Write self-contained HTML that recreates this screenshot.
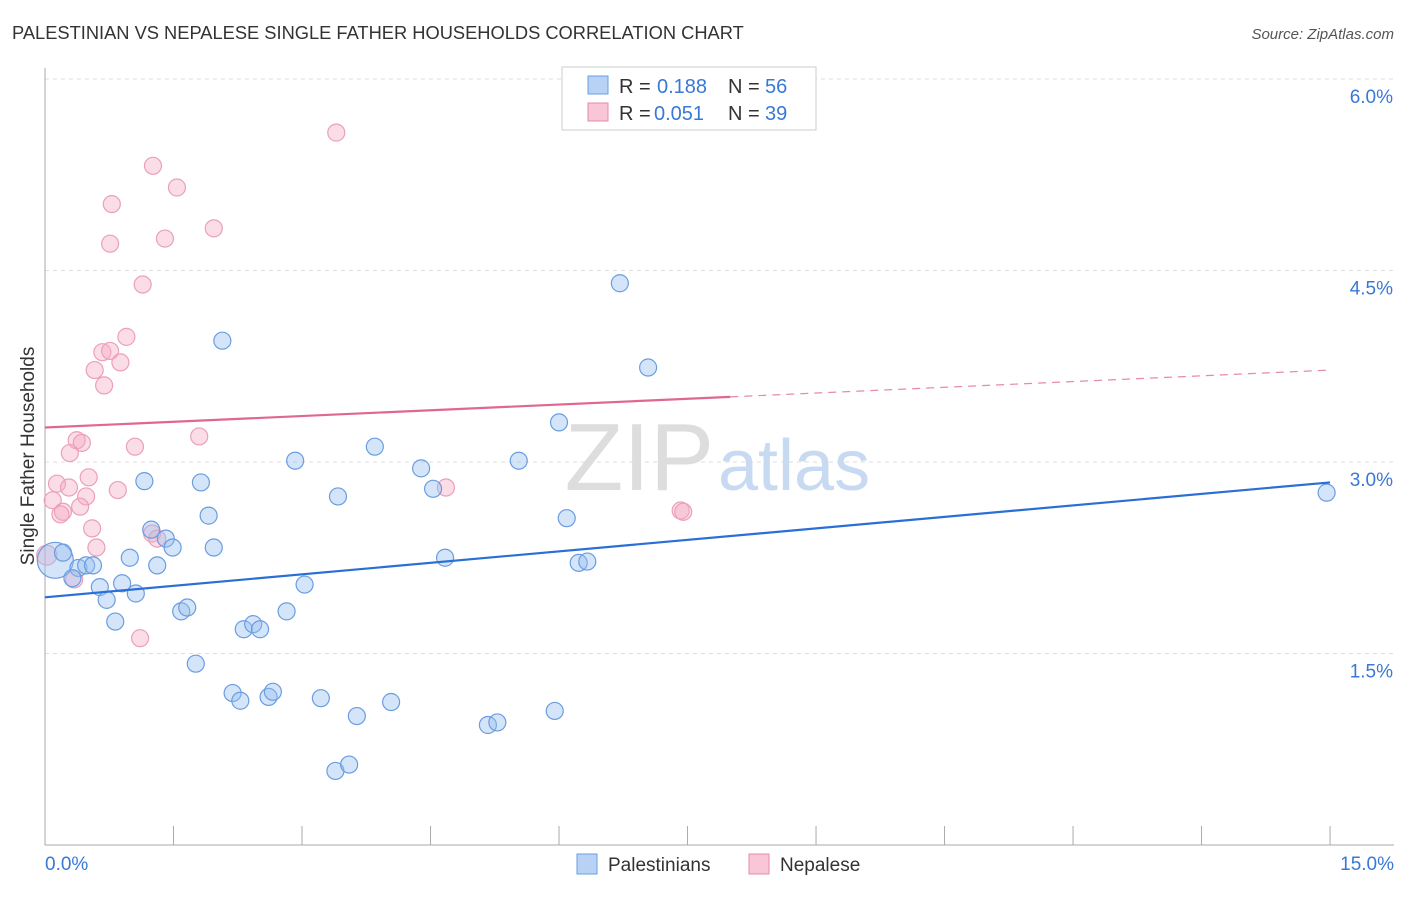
<!DOCTYPE html>
<html><head><meta charset="utf-8"><style>
body{margin:0;background:#fff;font-family:"Liberation Sans",sans-serif}
svg text{font-family:"Liberation Sans",sans-serif}
</style></head><body>
<svg id="c" width="1406" height="892">
<text x="12" y="39" font-size="18.3" fill="#333">PALESTINIAN VS NEPALESE SINGLE FATHER HOUSEHOLDS CORRELATION CHART</text>
<text x="1394" y="39" font-size="15" fill="#555" font-style="italic" text-anchor="end">Source: ZipAtlas.com</text>
<g id="grid"></g>
<g id="wm">
<text x="714" y="490" font-size="96" fill="#ddd" text-anchor="end" font-family="Liberation Serif">ZIP</text>
<text x="718" y="490" font-size="72" fill="#c8daf2">atlas</text>
</g>
<g id="marks"></g>
<g id="legend">
<rect x="562" y="67" width="254" height="63" fill="#fff" stroke="#ccc"/>
<rect x="588" y="76" width="20" height="18" fill="#b8d2f5" stroke="#6a9de0"/>
<rect x="588" y="103" width="20" height="18" fill="#f8c6d6" stroke="#e88aa8"/>
<text x="619" y="93" font-size="20" fill="#333">R = </text>
<text x="657" y="93" font-size="20" fill="#3a78d6">0.188</text>
<text x="728" y="93" font-size="20" fill="#333">N = </text>
<text x="765" y="93" font-size="20" fill="#3a78d6">56</text>
<text x="619" y="120" font-size="20" fill="#333">R = </text>
<text x="654" y="120" font-size="20" fill="#3a78d6">0.051</text>
<text x="728" y="120" font-size="20" fill="#333">N = </text>
<text x="765" y="120" font-size="20" fill="#3a78d6">39</text>
</g>
<g>
<rect x="577" y="854" width="20" height="20" fill="#b8d2f5" stroke="#6a9de0"/>
<text x="608" y="871" font-size="19" fill="#333">Palestinians</text>
<rect x="749" y="854" width="20" height="20" fill="#f8c6d6" stroke="#e88aa8"/>
<text x="780" y="871" font-size="19" fill="#333">Nepalese</text>
</g>
<text transform="translate(34,456) rotate(-90)" font-size="19" fill="#333" text-anchor="middle">Single Father Households</text>
</svg>
<script>
const blueX=[.12,.21,.39,.32,.48,.56,.64,.72,.82,.90,.99,1.06,1.16,1.24,1.31,1.41,1.49,1.59,1.66,1.76,1.82,1.91,1.97,2.07,2.19,2.28,2.32,2.43,2.51,2.61,2.66,2.82,2.92,3.03,3.22,3.39,3.42,3.55,3.64,3.85,4.04,4.39,4.53,4.67,5.17,5.28,5.53,5.95,6.00,6.09,6.23,6.33,6.71,7.04,14.96];
const blueY=[2.23,2.29,2.17,2.09,2.19,2.19,2.02,1.92,1.75,2.05,2.25,1.97,2.85,2.47,2.19,2.40,2.33,1.83,1.86,1.42,2.84,2.58,2.33,3.95,1.19,1.13,1.69,1.73,1.69,1.16,1.20,1.83,3.01,2.04,1.15,0.58,2.73,0.63,1.01,3.12,1.12,2.95,2.79,2.25,0.94,0.96,3.01,1.05,3.31,2.56,2.21,2.22,4.40,3.74,2.76];
const pinkX=[3.40,1.26,1.54,.78,1.97,1.40,.76,1.14,.95,.67,.76,.88,.58,.69,1.80,.37,.43,1.05,.29,.51,.14,.28,.85,4.68,.48,.09,.41,.21,.18,.55,.60,1.25,1.31,1.11,7.42,7.45,.02,.34];
const pinkY=[5.58,5.32,5.15,5.02,4.83,4.75,4.71,4.39,3.98,3.86,3.87,3.78,3.72,3.60,3.20,3.17,3.15,3.12,3.07,2.88,2.83,2.80,2.78,2.80,2.73,2.70,2.65,2.61,2.59,2.48,2.33,2.44,2.40,1.62,2.62,2.61,2.27,2.08];
const blueLine=[1.94,2.84];
const pinkLine=[3.27,3.72];
const yTicks=[1.5,3.0,4.5,6.0];
const xTickVals=[0,1.5,3,4.5,6,7.5,9,10.5,12,13.5,15];
const NS='http://www.w3.org/2000/svg';
const X=v=>45+v*85.67, Y=v=>845-v*127.67;
function mk(t,a,p){const e=document.createElementNS(NS,t);for(const k in a)e.setAttribute(k,a[k]);(p||document.getElementById('marks')).appendChild(e);return e;}
const g=document.getElementById('grid');
yTicks.forEach(v=>{const l=mk('line',{x1:45,x2:1394,y1:Y(v),y2:Y(v),stroke:'#ddd','stroke-dasharray':'4,4'},g);


const t=mk('text',{x:1393,y:Y(v)+24,'font-size':19,fill:'#3a78d6','text-anchor':'end'},g);t.textContent=v.toFixed(1)+'%';

});
const ax=mk('line',{x1:45,x2:45,y1:68,y2:845,stroke:'#aaa'},g);


const bx=mk('line',{x1:45,x2:1394,y1:845,y2:845,stroke:'#aaa'},g);


xTickVals.forEach(v=>{const l=mk('line',{x1:X(v),x2:X(v),y1:826,y2:845,stroke:'#aaa'},g);

});
[[0,'start',45],[15,'end',1394]].forEach(([v,a,px])=>{const t=mk('text',{x:px,y:870,'font-size':19,fill:'#3a78d6','text-anchor':a},g);t.textContent=v.toFixed(1)+'%';

});
pinkX.forEach((v,i)=>{const c=mk('circle',{cx:X(v),cy:Y(pinkY[i]),r:i==36?10:8.5,fill:'rgba(245,170,195,0.4)',stroke:'#eba0b8','stroke-width':1.2});

});
blueX.forEach((v,i)=>{const c=mk('circle',{cx:X(v),cy:Y(blueY[i]),r:i==0?18:8.5,fill:'rgba(150,190,240,0.4)',stroke:'#6a9de0','stroke-width':1.2});

});
const bl=mk('line',{x1:X(0),y1:Y(blueLine[0]),x2:X(15),y2:Y(blueLine[1]),stroke:'#2a6fd6','stroke-width':2.2});


const pm=pinkLine[0]+(pinkLine[1]-pinkLine[0])*8/15;
const pl=mk('line',{x1:X(0),y1:Y(pinkLine[0]),x2:X(8),y2:Y(pm),stroke:'#e0688e','stroke-width':2.2});


const pd=mk('line',{x1:X(8),y1:Y(pm),x2:X(15),y2:Y(pinkLine[1]),stroke:'#e88aa8','stroke-width':1.2,'stroke-dasharray':'8,6'});


</script>
</body></html>
